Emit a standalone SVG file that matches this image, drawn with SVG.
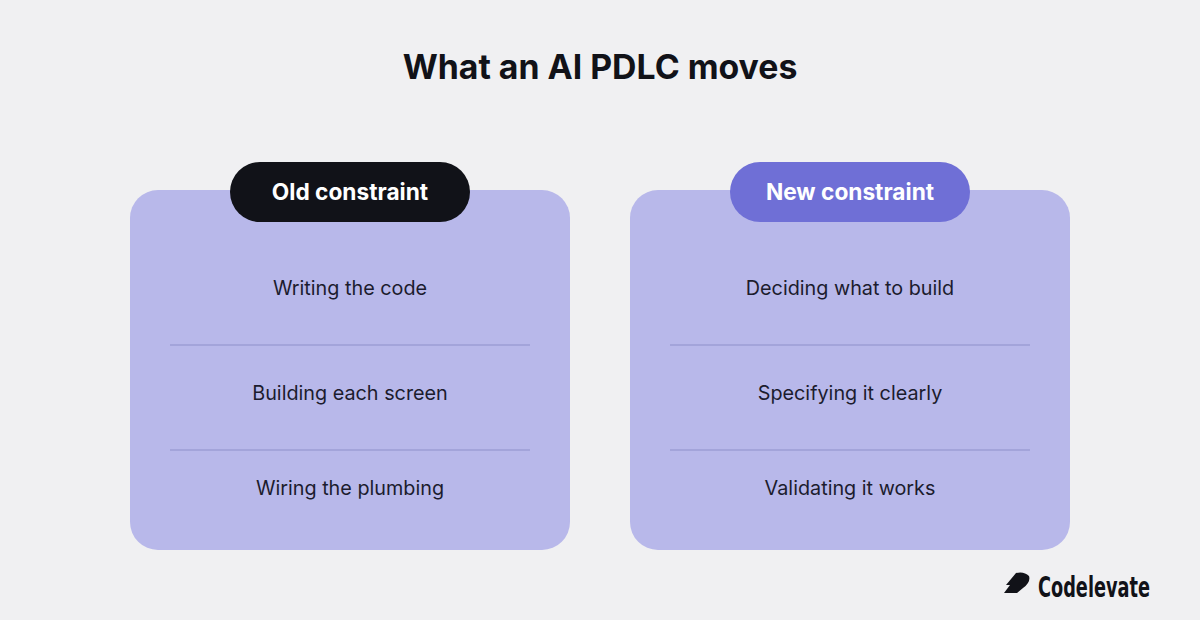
<svg xmlns="http://www.w3.org/2000/svg" width="1200" height="620" viewBox="0 0 1200 620">
<style>
.card{fill:#b8b8ea}
.div{stroke:#9c9ed4;stroke-width:1.5}
.item{font-family:Inter,"Liberation Sans",sans-serif;font-size:19.8px;fill:#1c1c2e;text-anchor:middle}
.pill{font-family:Inter,"Liberation Sans",sans-serif;font-size:22.7px;font-weight:700;fill:#fff;text-anchor:middle}
</style>
<rect width="1200" height="620" fill="#f0f0f2"/>
<text x="600" y="79" text-anchor="middle" font-family="Inter,'Liberation Sans',sans-serif" font-size="33.8" font-weight="700" fill="#111218">What an AI PDLC moves</text>
<g id="old">
<rect class="card" x="130" y="190" width="440" height="360" rx="28"/>
<rect x="230" y="162" width="240" height="60" rx="30" fill="#111218"/>
<text class="pill" x="350" y="200">Old constraint</text>
<text class="item" x="350" y="295">Writing the code</text>
<line class="div" x1="170" y1="345" x2="530" y2="345"/>
<text class="item" x="350" y="400">Building each screen</text>
<line class="div" x1="170" y1="450" x2="530" y2="450"/>
<text class="item" x="350" y="495">Wiring the plumbing</text>
</g>
<g id="new">
<rect class="card" x="630" y="190" width="440" height="360" rx="28"/>
<rect x="730" y="162" width="240" height="60" rx="30" fill="#6f6fd6"/>
<text class="pill" x="850" y="200">New constraint</text>
<text class="item" x="850" y="295">Deciding what to build</text>
<line class="div" x1="670" y1="345" x2="1030" y2="345"/>
<text class="item" x="850" y="400">Specifying it clearly</text>
<line class="div" x1="670" y1="450" x2="1030" y2="450"/>
<text class="item" x="850" y="495">Validating it works</text>
</g>
<g id="connectors"/>
<g id="logo">
<path d="M1004 593 l6-8 h-4 l10-12 q8-2 13 3 q2 6-6 12 l-6 5 z" fill="#111218"/>
<text x="1038" y="597" font-family="'Liberation Sans Narrow','DejaVu Sans Condensed',sans-serif" font-size="28" font-weight="700" fill="#111218" textLength="112" lengthAdjust="spacingAndGlyphs">Codelevate</text>
</g>
</svg>
